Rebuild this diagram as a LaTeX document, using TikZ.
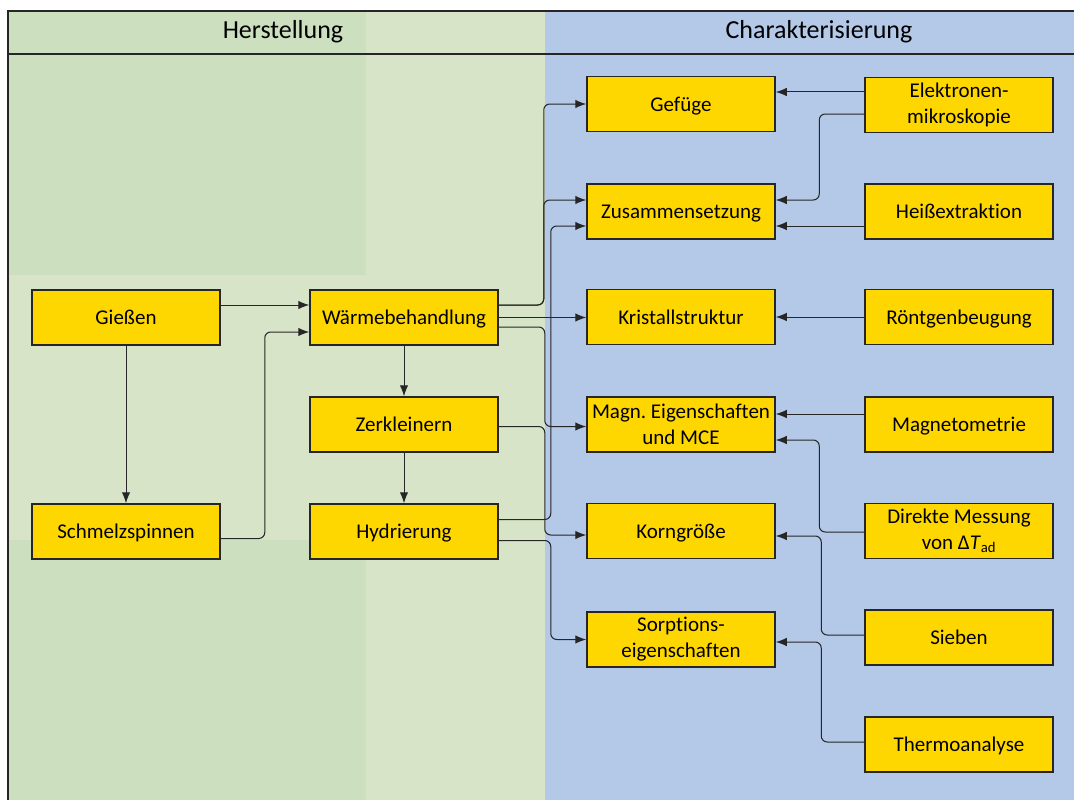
\documentclass[tikz,border=0pt]{standalone}
\usepackage{fontspec}
\setmainfont{Carlito}[Ligatures=NoCommon]
\usetikzlibrary{arrows.meta}

\definecolor{greendark}{HTML}{CCE0C0}
\definecolor{greenlight}{HTML}{D8E4C8}
\definecolor{bluepanel}{HTML}{B4C8E8}
\definecolor{boxyellow}{HTML}{FFD700}
\definecolor{linegray}{HTML}{262626}

\begin{document}
\frenchspacing
\begin{tikzpicture}[x=1pt,y=-1pt,
  procbox/.style={draw=linegray,line width=1.5pt,fill=boxyellow,minimum width=188pt,
    minimum height=55pt,inner sep=0pt,font=\fontsize{21}{26}\selectfont,
    text height=17pt,text depth=3pt},
  procboxtwo/.style={draw=linegray,line width=1.5pt,fill=boxyellow,minimum width=188pt,
    minimum height=55pt,inner sep=0pt,align=center,font=\fontsize{21}{26}\selectfont},
  conn/.style={draw=linegray,line width=1pt,rounded corners=6pt,
    -{Latex[length=11pt,width=8.5pt]}},
  paneltitle/.style={font=\fontsize{26}{30}\selectfont}]

\useasboundingbox (0,0) rectangle (1074,800);
\clip (0,0) rectangle (1074,800);

% Draw the two panels
\fill[greendark] (8,11) rectangle (545,810);
\fill[greenlight] (366,11) rectangle (545,810);
\fill[greenlight] (8,275) rectangle (545,540);
\fill[bluepanel] (545,11) rectangle (1090,810);
\draw[line width=1.5pt,linegray] (1090,11) -- (8,11) -- (8,810);
\draw[line width=1.5pt,linegray] (8,54) -- (1090,54);

% Add the panel titles
\node[paneltitle] (herst) at (283,32) {Herstellung};
\node[paneltitle] (charak) at (819,32) {Charakterisierung};

% Herstellung steps
\node[procbox] (giessen) at (126,317.5) {Gießen};
\node[procbox] (schmelz) at (126,531.5) {Schmelzspinnen};
\node[procbox] (waerme) at (404,317.5) {Wärmebehandlung};
\node[procbox] (zerkl) at (404,424.5) {Zerkleinern};
\node[procbox] (hydr) at (404,531.5) {Hydrierung};

% Properties
\node[procbox] (gefuege) at (681,104) {Gefüge};
\node[procbox] (zusamm) at (681,211.5) {Zusammensetzung};
\node[procbox] (kristall) at (681,317) {Kristallstruktur};
\node[procboxtwo] (magn) at (681,424.5) {Magn. Eigenschaften\\und MCE};
\node[procbox] (korn) at (681,531) {Korngröße};
\node[procboxtwo] (sorption) at (681,639.5) {Sorptions-\\eigenschaften};

% Methods
\node[procboxtwo] (elektr) at (959,105) {Elektronen-\\mikroskopie};
\node[procbox] (heiss) at (959,211.5) {Heißextraktion};
\node[procbox] (roentgen) at (959,317) {Röntgenbeugung};
\node[procbox] (magnet) at (959,424.5) {Magnetometrie};
\node[procboxtwo] (direkt) at (959,531) {Direkte Messung\\von Δ\textit{T}\textsubscript{ad}};
\node[procbox] (sieben) at (959,637.5) {Sieben};
\node[procbox] (thermo) at (959,744.5) {Thermoanalyse};

% Connect the Herstellung steps
\draw[conn] ([yshift=12.5pt]giessen.east) -- ([yshift=12.5pt]waerme.west);
\draw[conn] (giessen) -- (schmelz);
\draw[conn] ([yshift=-7pt]schmelz.east) -- ++(44,0) |- ([yshift=-14.5pt]waerme.west);
\draw[conn] (waerme) -- (zerkl);
\draw[conn] (zerkl) -- (hydr);

% Herstellung to properties
\draw[conn] ([yshift=12.5pt]waerme.east) -- ++(45,0) |- (gefuege.west);
\draw[conn] ([yshift=12.5pt]waerme.east) -- ++(45,0) |- ([yshift=11.5pt]zusamm.west);
\draw[conn] (waerme.east) -- (waerme.east -| kristall.west);
\draw[conn] ([yshift=-9.5pt]waerme.east) -- ++(46,0) |- ([yshift=-2pt]magn.west);
\draw[conn] ([yshift=-2pt]zerkl.east) -- ++(46,0) |- ([yshift=-4pt]korn.west);
\draw[conn] ([yshift=12pt]hydr.east) -- ++(52,0) |- ([yshift=-14.5pt]zusamm.west);
\draw[conn] ([yshift=-9pt]hydr.east) -- ++(52,0) |- (sorption.west);

% Methods to properties
\draw[conn] ([yshift=13pt]elektr.west) -- ([yshift=13pt]elektr.west -| gefuege.east);
\draw[conn] ([yshift=-9pt]elektr.west) -- ++(-45,0) |- ([yshift=11.5pt]zusamm.east);
\draw[conn] ([yshift=-14.5pt]heiss.west) -- ([yshift=-14.5pt]zusamm.east);
\draw[conn] (roentgen) -- (kristall);
\draw[conn] ([yshift=10.5pt]magnet.west) -- ([yshift=10.5pt]magn.east);
\draw[conn] ([yshift=-1pt]direkt.west) -- ++(-45,0) |- ([yshift=-15.5pt]magn.east);
\draw[conn] ([yshift=2.5pt]sieben.west) -- ++(-43,0) |- ([yshift=-5pt]korn.east);
\draw[conn] ([yshift=2.5pt]thermo.west) -- ++(-43,0) |- ([yshift=-2.5pt]sorption.east);

\end{tikzpicture}
\end{document}
